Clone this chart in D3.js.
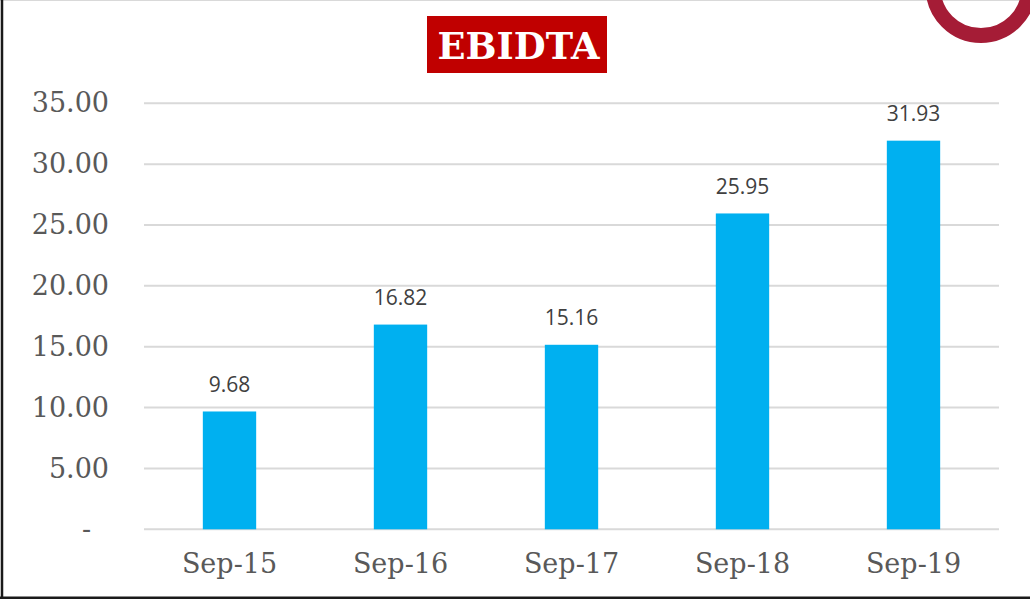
<!DOCTYPE html>
<html>
<head>
<meta charset="utf-8">
<script src="https://cdn.jsdelivr.net/npm/d3@7"></script>
<style>
  html, body { margin: 0; padding: 0; background: #fff; }
  svg { display: block; }
</style>
</head>
<body>
<svg id="chart" width="1030" height="604"></svg>
<script>
const categories = ["Sep-15", "Sep-16", "Sep-17", "Sep-18", "Sep-19"];
const values = [9.68, 16.82, 15.16, 25.95, 31.93];
const yTicks = [0, 5, 10, 15, 20, 25, 30, 35];
const title = "EBIDTA";

const svg = d3.select("#chart");
const W = 1030, H = 604;
const m = { left: 144, right: 31, top: 103.3, bottom: 74.7 };

// frame
svg.append("line").attr("x1", 0).attr("x2", W).attr("y1", 0.5).attr("y2", 0.5)
  .attr("stroke", "#d9d9d9").attr("stroke-width", 1);
svg.append("line").attr("x1", 2).attr("x2", 2).attr("y1", 0).attr("y2", 599)
  .attr("stroke", "#1a1a1a").attr("stroke-width", 2.5);
svg.append("line").attr("x1", 0).attr("x2", W).attr("y1", 597.8).attr("y2", 597.8)
  .attr("stroke", "#1a1a1a").attr("stroke-width", 2.5);

// logo ring (top-right)
svg.append("circle").attr("cx", 981).attr("cy", -12.4).attr("r", 47.9)
  .attr("fill", "none").attr("stroke", "#A51C36").attr("stroke-width", 15);

const x = d3.scaleBand().domain(categories)
  .range([m.left, W - m.right])
  .paddingInner(0.688).paddingOuter(0.344);
const y = d3.scaleLinear().domain([0, 35]).range([H - m.bottom, m.top]);

// gridlines
svg.append("g").selectAll("line").data(yTicks).join("line")
  .attr("x1", m.left).attr("x2", W - m.right)
  .attr("y1", d => y(d)).attr("y2", d => y(d))
  .attr("stroke", "#d9d9d9").attr("stroke-width", 2);

// y axis labels
const yAxis = d3.axisLeft(y).tickValues(yTicks).tickSize(0).tickPadding(0)
  .tickFormat(d => d === 0 ? "-" : d3.format(".2f")(d));
const ya = svg.append("g").attr("transform", `translate(109,0)`).call(yAxis);
ya.select(".domain").remove();
ya.selectAll("text")
  .attr("font-family", "'DejaVu Serif', serif").attr("font-size", 27)
  .attr("fill", "#595959")
  .attr("dx", d => d === 0 ? -18 : 0);

// x axis labels
const xAxis = d3.axisBottom(x).tickSize(0).tickPadding(0);
const xa = svg.append("g").attr("transform", `translate(0,${y(0)})`).call(xAxis);
xa.select(".domain").remove();
xa.selectAll("text")
  .attr("font-family", "'DejaVu Serif', serif").attr("font-size", 27)
  .attr("fill", "#595959")
  .attr("dy", null).attr("y", 43.5);

// bars
svg.append("g").selectAll("rect").data(values).join("rect")
  .attr("x", (d, i) => x(categories[i]))
  .attr("width", x.bandwidth())
  .attr("y", d => y(d))
  .attr("height", d => y(0) - y(d))
  .attr("fill", "#00B0F0");

// data labels
svg.append("g").selectAll("text").data(values).join("text")
  .attr("x", (d, i) => x(categories[i]) + x.bandwidth() / 2)
  .attr("y", d => y(d) - 19.5)
  .attr("text-anchor", "middle")
  .attr("font-family", "'Open Sans', sans-serif").attr("font-size", 21)
  .attr("fill", "#404040")
  .text(d => d3.format(".2f")(d));

// title box
svg.append("rect").attr("x", 427).attr("y", 16).attr("width", 180).attr("height", 57)
  .attr("fill", "#C00000");
svg.append("text").attr("x", 518.5).attr("y", 59)
  .attr("text-anchor", "middle")
  .attr("font-family", "'DejaVu Serif', serif").attr("font-weight", "bold")
  .attr("font-size", 37).attr("fill", "#fff")
  .attr("textLength", 162).attr("lengthAdjust", "spacingAndGlyphs")
  .text(title);
</script>
</body>
</html>
